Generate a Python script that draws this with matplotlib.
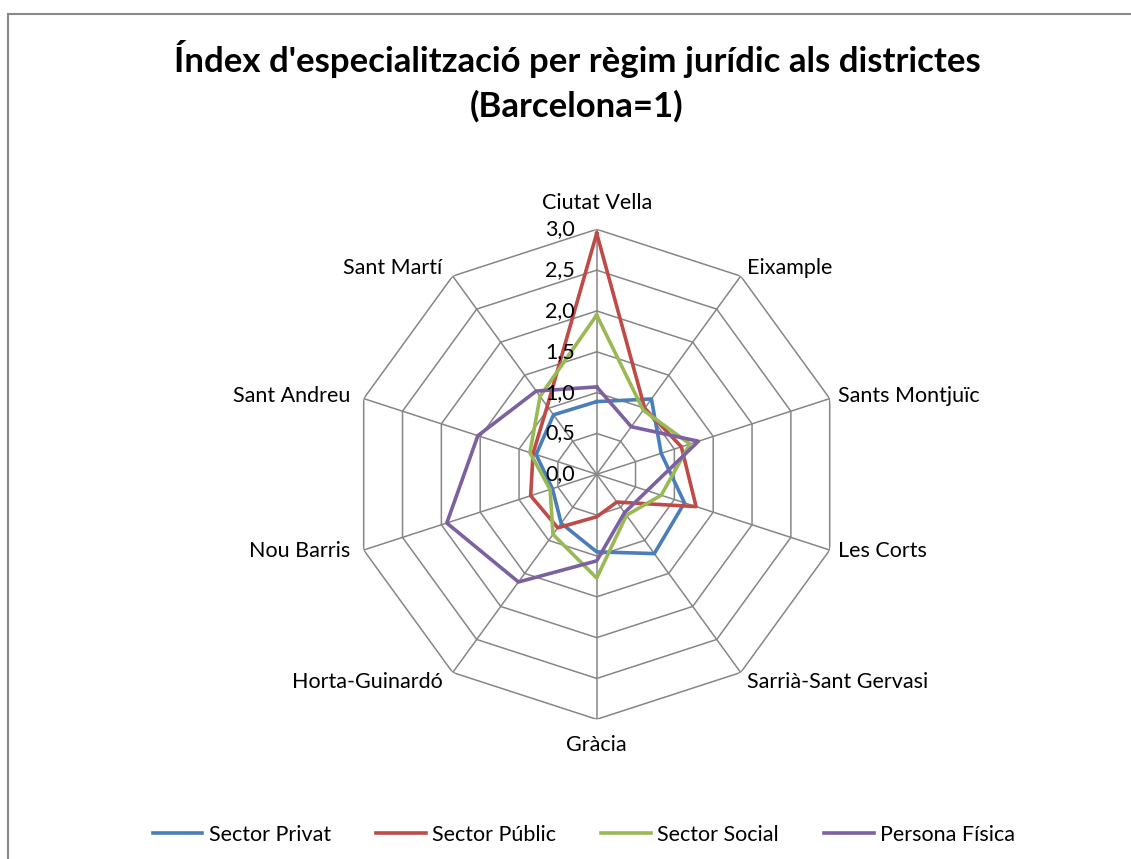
import numpy as np
import matplotlib
matplotlib.use("Agg")
import matplotlib.pyplot as plt
from matplotlib.lines import Line2D

plt.rcParams['font.family'] = ['Lato', 'DejaVu Sans']

districts = ["Ciutat Vella", "Eixample", "Sants Montjuïc", "Les Corts",
             "Sarrià-Sant Gervasi", "Gràcia", "Horta-Guinardó", "Nou Barris",
             "Sant Andreu", "Sant Martí"]
series_names = ["Sector Privat", "Sector Públic", "Sector Social", "Persona Física"]
privat = [0.89, 1.14, 0.83, 1.13, 1.20, 0.95, 0.74, 0.57, 0.78, 0.90]
public = [2.95, 1.00, 1.09, 1.28, 0.42, 0.52, 0.81, 0.85, 0.82, 1.03]
social = [1.95, 0.97, 1.20, 0.83, 0.62, 1.27, 0.91, 0.60, 0.86, 1.18]
fisica = [1.07, 0.72, 1.31, 0.65, 0.58, 1.06, 1.63, 1.93, 1.53, 1.26]
colors = ["#4A7EBB", "#BE4B48", "#98B954", "#7D60A0"]
rings = [0.5, 1.0, 1.5, 2.0, 2.5, 3.0]
ring_labels = ["0,0", "0,5", "1,0", "1,5", "2,0", "2,5", "3,0"]

W, H = 1131, 859
fig = plt.figure(figsize=(W / 100, H / 100), dpi=100)

# chart border (only top and left visible)
fig.add_artist(Line2D([7.5 / W, 7.5 / W], [0, 1 - 13.5 / H], color="#888888", lw=1.5))
fig.add_artist(Line2D([7.5 / W, 1], [1 - 13.5 / H, 1 - 13.5 / H], color="#888888", lw=1.5))

fig.text(577 / W, 1 - 59 / H, "Índex d'especialització per règim jurídic als districtes",
         ha="center", va="center", fontsize=25, fontweight="bold")
fig.text(577 / W, 1 - 106 / H, "(Barcelona=1)",
         ha="center", va="center", fontsize=25, fontweight="bold")

cx, cy, R = 596.7, 474.3, 245
ax = fig.add_axes([(cx - R) / W, 1 - (cy + R) / H, 2 * R / W, 2 * R / H], projection="polar")
ax.set_theta_zero_location("N")
ax.set_theta_direction(-1)
ax.set_ylim(0, 3)
ax.grid(False)
ax.spines["polar"].set_visible(False)
ax.set_xticks([])
ax.set_yticks([])
ax.patch.set_alpha(0)

n = len(districts)
angles = np.arange(n) * 2 * np.pi / n
closed = np.append(angles, angles[0])

grid_col = "#868686"
for r in rings:
    ax.plot(closed, [r] * (n + 1), color=grid_col, lw=1.1, zorder=1)
for a in angles:
    ax.plot([a, a], [0, 3], color=grid_col, lw=1.1, zorder=1)

for vals, c, name in zip([privat, public, social, fisica], colors, series_names):
    ax.plot(closed, list(vals) + [vals[0]], color=c, lw=2.6, label=name, zorder=3,
            solid_joinstyle="round")

# radial labels
for i, lab in enumerate(ring_labels):
    ax.annotate(lab, xy=(0, i * 0.5), xytext=(-22, 0), textcoords="offset pixels",
                ha="right", va="center", fontsize=15.5, zorder=5)

# category labels
offsets = [(0, 26, "center"), (6, 8, "left"), (8, 3, "left"), (8, -1, "left"),
           (6, -9, "left"), (0, -26, "center"), (-10, -9, "right"), (-13, -1, "right"),
           (-13, 3, "right"), (-10, 8, "right")]
for a, name, (dx, dy, ha) in zip(angles, districts, offsets):
    ax.annotate(name, xy=(a, 3), xytext=(dx, dy), textcoords="offset pixels",
                ha=ha, va="center", fontsize=15.5, annotation_clip=False)

handles = [Line2D([0], [0], color=c, lw=2.6) for c in colors]
fig.legend(handles, series_names, loc="center", bbox_to_anchor=(584 / W, 1 - 835 / H),
           ncol=4, frameon=False, fontsize=15.5, handlelength=2.3, handletextpad=0.3,
           columnspacing=2.1)

fig.savefig("out.png", dpi=100)
